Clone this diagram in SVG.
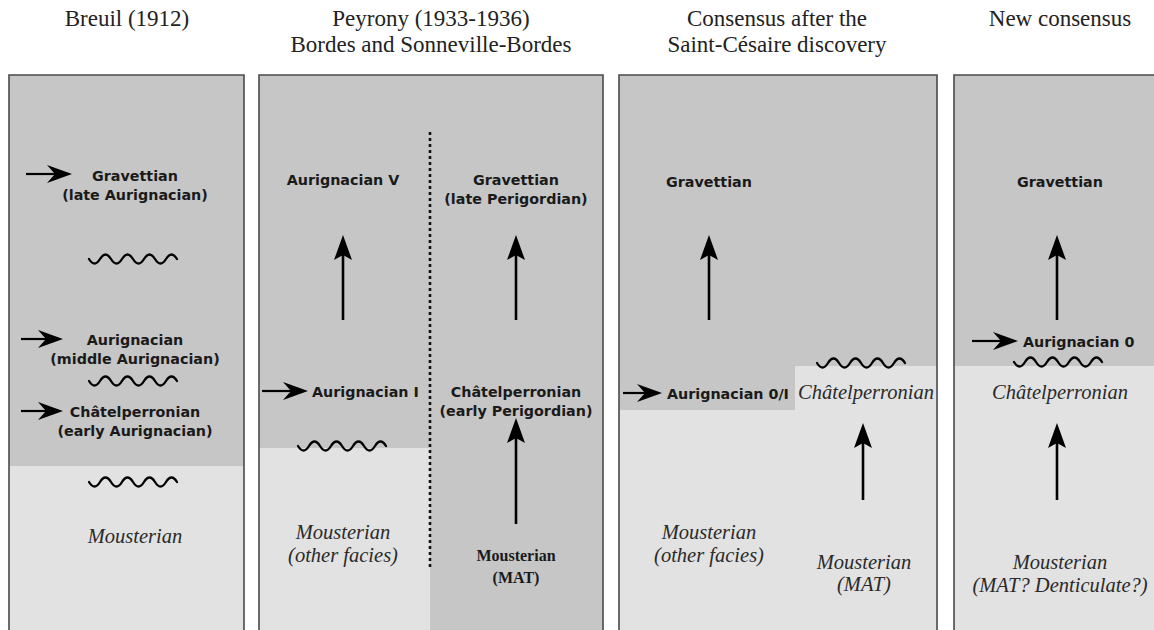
<svg xmlns="http://www.w3.org/2000/svg" width="1154" height="630" viewBox="0 0 1154 630">
<defs>
<style>
.panel{stroke:#4a4a4a;stroke-width:1.6}
.dark{fill:#c6c6c6}
.light{fill:#e2e2e2}
.hdr{font-family:"Liberation Serif","Times New Roman",serif;font-size:23px;fill:#222;text-anchor:middle}
.b{font-family:"DejaVu Sans",Verdana,sans-serif;font-weight:bold;font-size:14.3px;fill:#1a1a1a;text-anchor:middle}
.bl{font-family:"DejaVu Sans",Verdana,sans-serif;font-weight:bold;font-size:14.3px;fill:#1a1a1a}
.it{font-family:"Liberation Serif","Times New Roman",serif;font-style:italic;font-size:20.5px;fill:#2a2a2a;text-anchor:middle}
.sb{font-family:"Liberation Serif","Times New Roman",serif;font-weight:bold;font-size:16px;fill:#1a1a1a;text-anchor:middle}
.up{stroke:#000;stroke-width:2.6;fill:none;marker-end:url(#headU)}
.hz{stroke:#000;stroke-width:2.2;fill:none;marker-end:url(#headH)}
.wave{stroke:#000;stroke-width:2.3;fill:none;stroke-linecap:round}
.dots{stroke:#111;stroke-width:2.6;stroke-dasharray:3 3;fill:none}
</style>
<marker id="headU" viewBox="0 -10 25 20" refX="5" refY="0" markerWidth="25" markerHeight="20" markerUnits="userSpaceOnUse" orient="auto">
<path d="M0,-9 L25,0 L0,9 L5,0 Z" fill="#000"/>
</marker>
<marker id="headH" viewBox="0 -10 25 20" refX="8" refY="0" markerWidth="25" markerHeight="20" markerUnits="userSpaceOnUse" orient="auto">
<path d="M0,-9 L25,0 L0,9 L8,0 Z" fill="#000"/>
</marker>
<path id="wv" d="M0,-2 q5.5,9 11,0 t11,0 t11,0 t11,0 t11,0 t11,0 t11,0 t11,0"/>
</defs>
<rect width="1154" height="630" fill="#fff"/>

<g id="headers">
<text class="hdr" x="127" y="26">Breuil (1912)</text>
<text class="hdr" x="431" y="26">Peyrony (1933-1936)</text>
<text class="hdr" x="431" y="52">Bordes and Sonneville-Bordes</text>
<text class="hdr" x="777" y="26">Consensus after the</text>
<text class="hdr" x="777" y="52">Saint-Césaire discovery</text>
<text class="hdr" x="1060" y="26">New consensus</text>
</g>

<g id="panel-breuil">
<rect class="dark" x="9" y="75" width="235" height="391"/>
<rect class="light" x="9" y="466" width="235" height="174"/>
<path class="panel" d="M9,640 V75 H244 V640" fill="none"/>
<text class="b" x="135" y="181">Gravettian</text>
<text class="b" x="135" y="200">(late Aurignacian)</text>
<text class="b" x="135" y="345">Aurignacian</text>
<text class="b" x="135" y="364">(middle Aurignacian)</text>
<text class="b" x="135" y="417">Châtelperronian</text>
<text class="b" x="135" y="436">(early Aurignacian)</text>
<text class="it" x="135" y="543">Mousterian</text>
</g>

<g id="panel-peyrony">
<rect class="dark" x="259" y="75" width="344" height="565"/>
<rect class="light" x="259" y="448" width="171" height="192"/>
<path class="panel" d="M259,640 V75 H603 V640" fill="none"/>
<text class="b" x="343" y="185">Aurignacian V</text>
<text class="bl" x="312" y="397">Aurignacian I</text>
<text class="it" x="343" y="539">Mousterian</text>
<text class="it" x="343" y="562">(other facies)</text>
<text class="b" x="516" y="185">Gravettian</text>
<text class="b" x="516" y="204">(late Perigordian)</text>
<text class="b" x="516" y="397">Châtelperronian</text>
<text class="b" x="516" y="416">(early Perigordian)</text>
<text class="sb" x="516" y="561">Mousterian</text>
<text class="sb" x="516" y="583">(MAT)</text>
</g>

<g id="panel-consensus">
<rect class="dark" x="619" y="75" width="318" height="291"/>
<rect class="light" x="619" y="366" width="318" height="274"/>
<rect class="dark" x="619" y="365" width="176" height="45"/>
<path class="panel" d="M619,640 V75 H937 V640" fill="none"/>
<text class="b" x="709" y="187">Gravettian</text>
<text class="bl" x="667" y="399">Aurignacian 0/I</text>
<text class="it" x="866" y="399">Châtelperronian</text>
<text class="it" x="709" y="539">Mousterian</text>
<text class="it" x="709" y="562">(other facies)</text>
<text class="it" x="864" y="569">Mousterian</text>
<text class="it" x="864" y="591">(MAT)</text>
</g>

<g id="panel-new">
<rect class="dark" x="954" y="75" width="210" height="291"/>
<rect class="light" x="954" y="366" width="210" height="274"/>
<path class="panel" d="M954,640 V75 H1164" fill="none"/>
<text class="b" x="1060" y="187">Gravettian</text>
<text class="bl" x="1023" y="347">Aurignacian 0</text>
<text class="it" x="1060" y="399">Châtelperronian</text>
<text class="it" x="1060" y="569">Mousterian</text>
<text class="it" x="1060" y="592">(MAT? Denticulate?)</text>
</g>

<g id="connectors">
<line class="hz" x1="26" y1="174" x2="55" y2="174"/>
<line class="hz" x1="21" y1="339" x2="46" y2="339"/>
<line class="hz" x1="21" y1="411" x2="46" y2="411"/>
<line class="hz" x1="262" y1="391" x2="291" y2="391"/>
<line class="hz" x1="623" y1="393" x2="645" y2="393"/>
<line class="hz" x1="972" y1="341" x2="1001" y2="341"/>
<line class="up" x1="343" y1="320" x2="343" y2="255"/>
<line class="up" x1="516" y1="320" x2="516" y2="255"/>
<line class="up" x1="516" y1="524" x2="516" y2="438"/>
<line class="up" x1="709" y1="320" x2="709" y2="255"/>
<line class="up" x1="863" y1="500" x2="863" y2="443"/>
<line class="up" x1="1057" y1="320" x2="1057" y2="255"/>
<line class="up" x1="1057" y1="500" x2="1057" y2="443"/>
<line class="dots" x1="430" y1="132" x2="430" y2="568"/>
<use href="#wv" class="wave" x="89" y="261"/>
<use href="#wv" class="wave" x="89" y="383"/>
<use href="#wv" class="wave" x="89" y="484"/>
<use href="#wv" class="wave" x="298" y="448"/>
<use href="#wv" class="wave" x="817" y="365"/>
<use href="#wv" class="wave" x="1014" y="364"/>
</g>
</svg>
